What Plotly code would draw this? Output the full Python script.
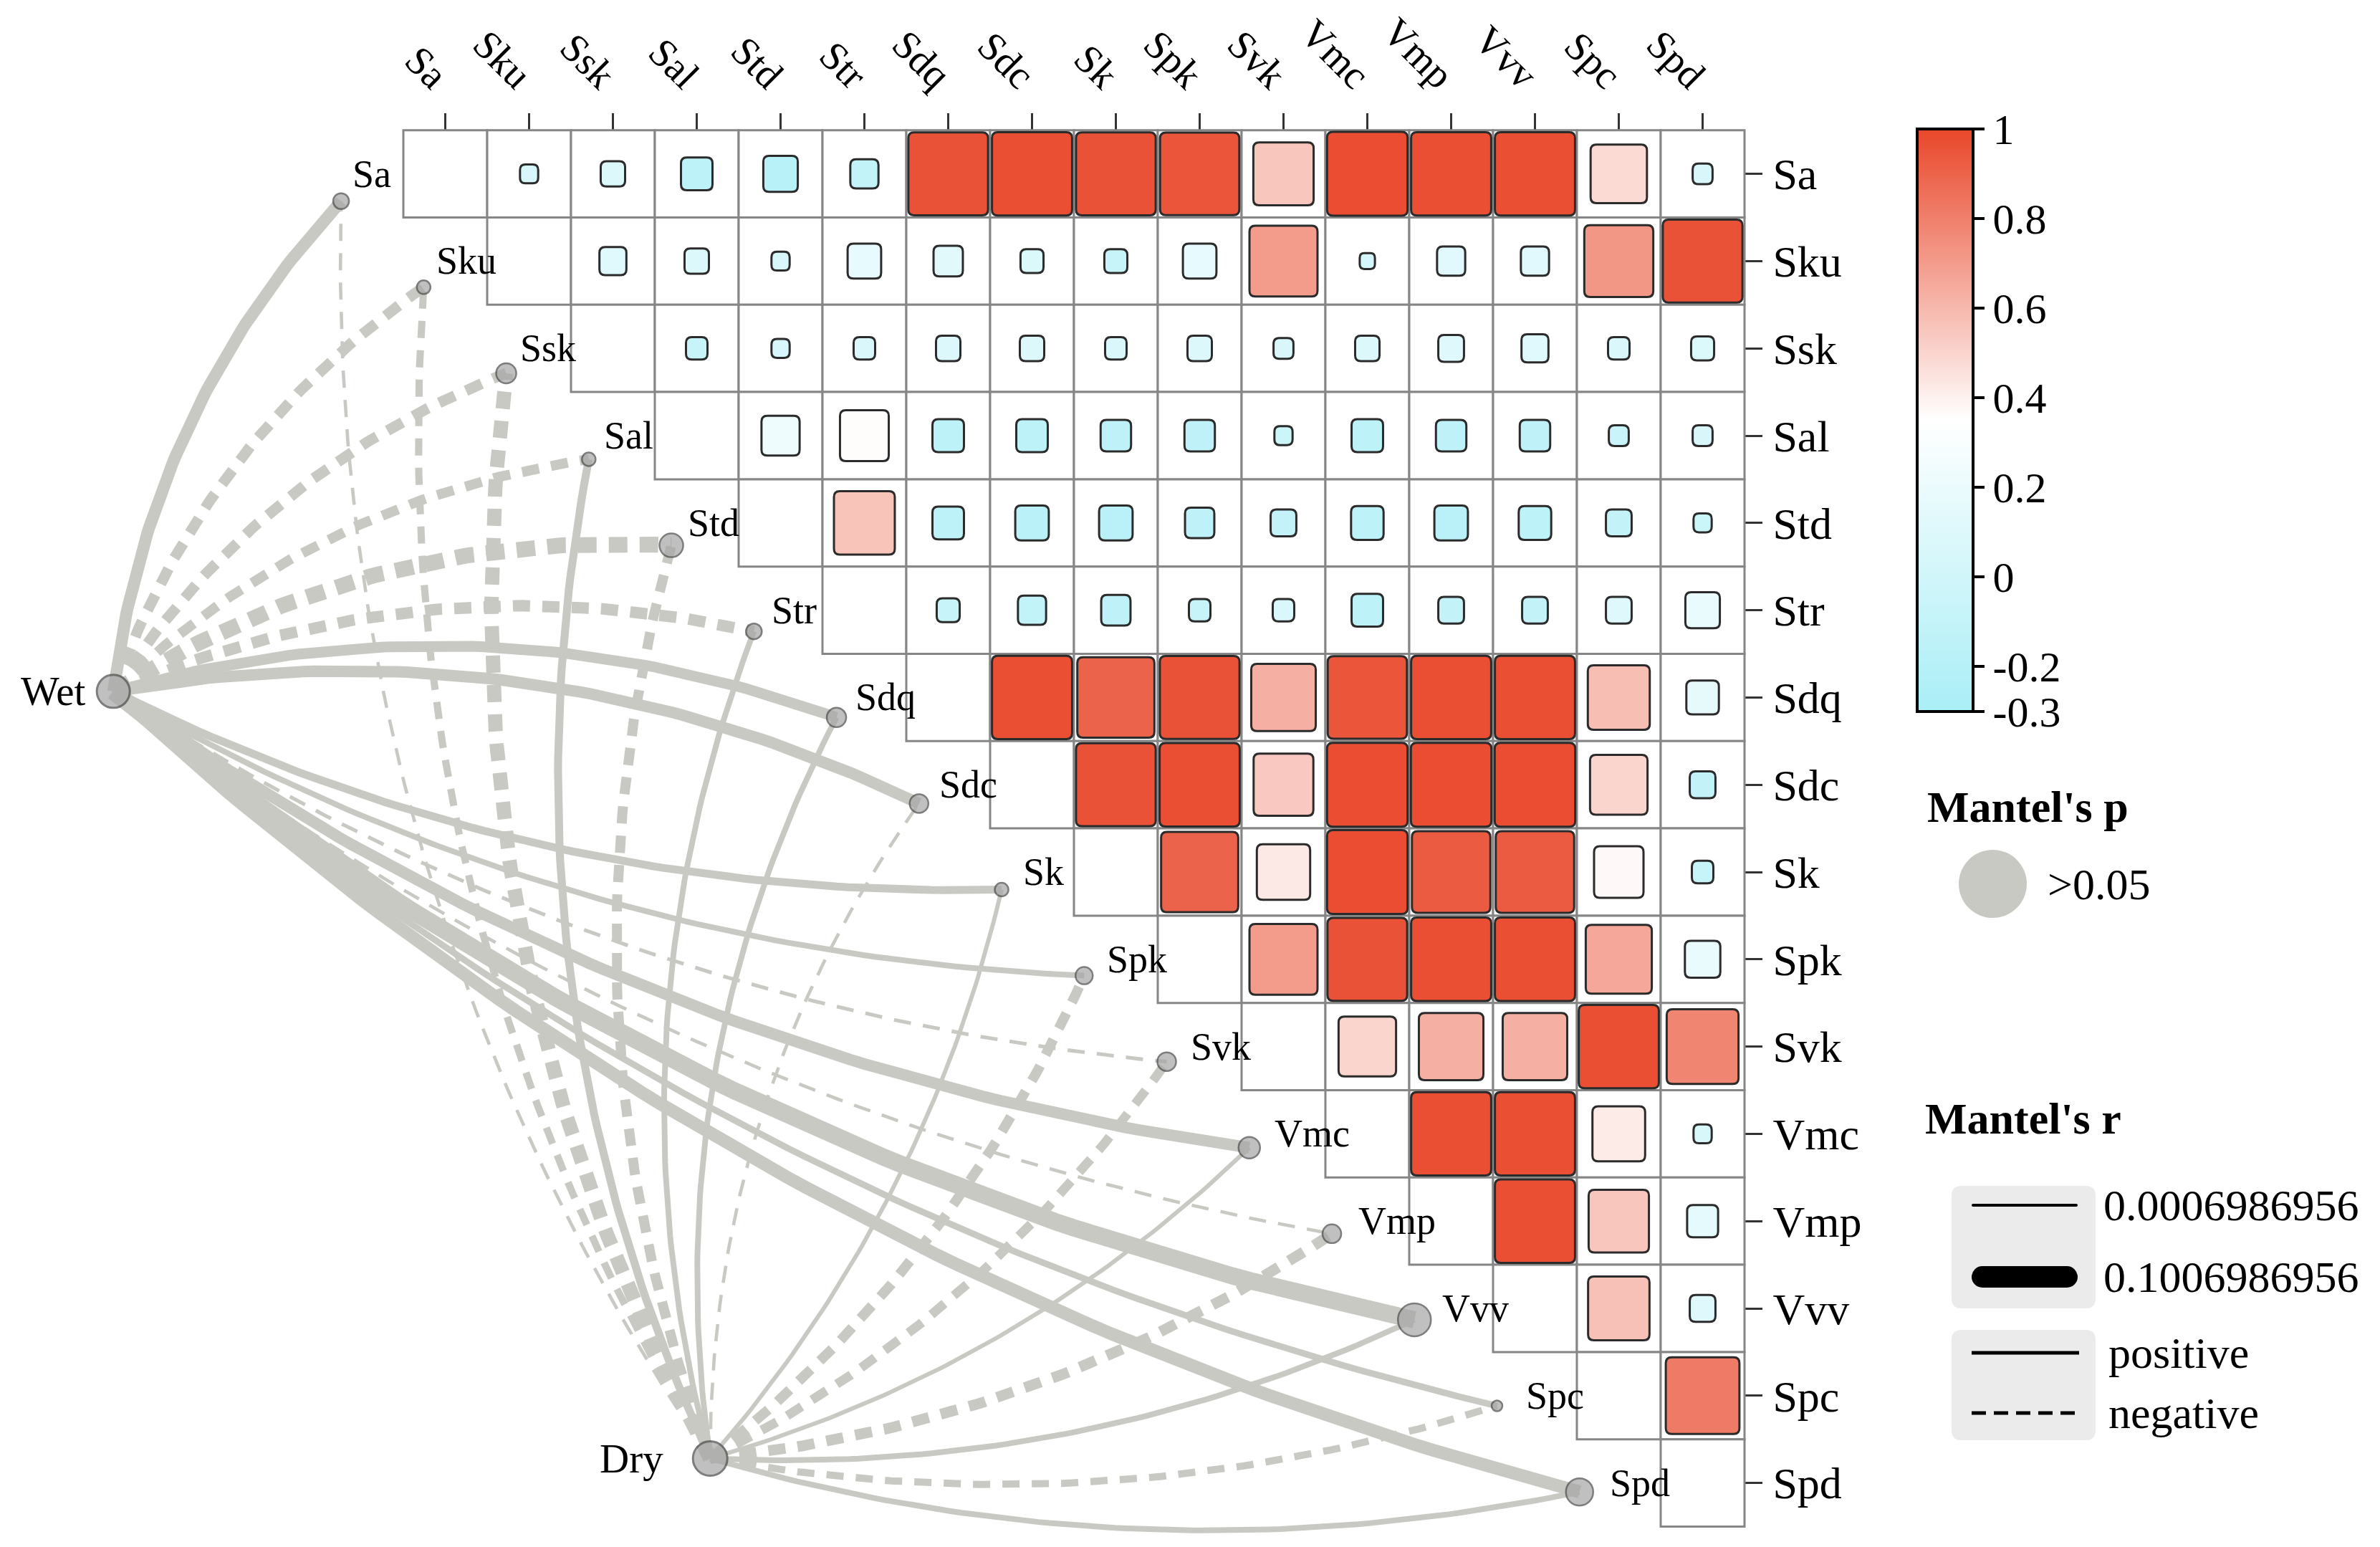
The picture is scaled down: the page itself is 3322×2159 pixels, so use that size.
import numpy as np
import plotly.graph_objects as go

# ---------------------------------------------------------------- data
variables = ["Sa", "Sku", "Ssk", "Sal", "Std", "Str", "Sdq", "Sdc", "Sk",
             "Spk", "Svk", "Vmc", "Vmp", "Vvv", "Spc", "Spd"]

# upper-triangle Pearson r, row i holds the values for columns i+1 .. 15
corr_sa = [0.05, 0.09, -0.15, -0.18, -0.12, 0.96, 0.97, 0.96, 0.95, 0.55, 0.98, 0.97, 0.97, 0.48, 0.06]
corr_sku = [0.11, 0.09, 0.05, 0.17, 0.13, 0.08, -0.08, 0.17, 0.70, 0.035, 0.12, 0.12, 0.72, 0.96]
corr_ssk = [-0.07, 0.05, 0.07, 0.09, 0.09, 0.07, 0.09, 0.06, 0.09, 0.10, 0.11, 0.07, 0.08]
corr_sal = [0.22, 0.36, -0.15, -0.15, -0.14, -0.14, -0.05, -0.15, -0.14, -0.14, -0.06, 0.06]
corr_std = [0.56, -0.15, -0.17, -0.17, -0.13, -0.10, -0.16, -0.17, -0.16, -0.10, -0.05]
corr_str = [-0.08, -0.12, -0.13, -0.07, 0.07, -0.15, -0.10, -0.10, 0.10, 0.18]
corr_sdq = [0.97, 0.90, 0.96, 0.63, 0.95, 0.97, 0.97, 0.58, 0.16]
corr_sdc = [0.96, 0.97, 0.54, 0.98, 0.98, 0.98, 0.50, -0.10]
corr_sk = [0.90, 0.43, 0.98, 0.93, 0.93, 0.37, -0.07]
corr_spk = [0.70, 0.96, 0.97, 0.97, 0.66, 0.19]
corr_svk = [0.50, 0.63, 0.63, 0.97, 0.78]
corr_vmc = [0.97, 0.97, 0.42, 0.05]
corr_vmp = [0.97, 0.55, 0.145]
corr_vvv = [0.57, 0.10]
corr_spc = [0.82]
corr_spd = []
corr_upper = [corr_sa, corr_sku, corr_ssk, corr_sal, corr_std, corr_str, corr_sdq, corr_sdc,
              corr_sk, corr_spk, corr_svk, corr_vmc, corr_vmp, corr_vvv, corr_spc, corr_spd]

env_names = ["Wet", "Dry"]
# Mantel's r (sign: + positive / - negative); all Mantel's p > 0.05
mantel_r_wet = [0.050, -0.043, -0.043, -0.039, -0.070, -0.047, 0.043, 0.047,
                0.028, 0.016, -0.005, 0.047, -0.003, 0.078, 0.020, 0.054]
mantel_r_dry = [-0.003, -0.024, -0.062, 0.028, -0.039, 0.016, 0.016, -0.003,
                0.008, -0.039, -0.035, 0.008, -0.043, 0.016, -0.024, 0.016]
mantel_p_label = ">0.05"
size_breaks = [0.0006986956, 0.1006986956]
sign_labels = ["positive", "negative"]

colorbar_ticks = [1, 0.8, 0.6, 0.4, 0.2, 0, -0.2, -0.3]
colorbar_ticktext = ["1", "0.8", "0.6", "0.4", "0.2", "0", "-0.2", "-0.3"]

# ---------------------------------------------------------------- layout constants
W, H = 3322, 2159
SHIFT_X, SHIFT_Y = -8, -8      # compensate page body margin
CW, RH = 117.0, 121.8          # px per column / row
X0, Y0 = 621.5 + SHIFT_X, 242.6 + SHIFT_Y
GRID_TOP = Y0 - RH / 2
GRID_RIGHT = X0 + 15.5 * CW
FONT = "Liberation Serif"
LINE_COL = "#C9C9C3"
NODE_FILL = "#A6A6A6"
NODE_EDGE = "#474747"
CMIN, CMAX = -0.3, 1.0
CSCALE = [[0.0, "#A9EEF6"], [0.5, "#FFFFFF"], [1.0, "#E9472A"]]

node_x = [-1.243 + 0.985 * i for i in range(16)]
node_y = [0.313 + 0.986 * i for i in range(16)]
node_size = [22, 19, 28, 19, 33, 22, 27, 26, 19, 24, 26, 30, 26, 46, 15, 38]
env_xy = [(-3.96, 5.93), (3.16, 14.72)]
env_size = [46, 48]
env_label_shift = [-36, -63]


def hex2rgb(h):
    h = h.lstrip("#")
    return [int(h[k:k + 2], 16) for k in (0, 2, 4)]


def fill_color(r):
    t = (r - CMIN) / (CMAX - CMIN)
    t = min(max(t, 0), 1)
    for (a, ca), (b, cb) in zip(CSCALE[:-1], CSCALE[1:]):
        if a <= t <= b:
            f = (t - a) / (b - a)
            A, B = hex2rgb(ca), hex2rgb(cb)
            c = [round(A[k] + (B[k] - A[k]) * f) for k in range(3)]
            return "rgb(%d,%d,%d)" % tuple(c)
    return CSCALE[-1][1]


def to_px(x, y):
    return X0 + CW * x, Y0 + RH * y


def to_units(px, py):
    return (px - X0) / CW, (py - Y0) / RH


def width_of(r):
    return 4 + 26 * (abs(r) - size_breaks[0]) / (size_breaks[1] - size_breaks[0])


def rounded_path(cx, cy, hw, hh, rx, ry):
    x0, x1, y0, y1 = cx - hw, cx + hw, cy - hh, cy + hh
    return (f"M{x0+rx},{y0} L{x1-rx},{y0} Q{x1},{y0} {x1},{y0+ry} "
            f"L{x1},{y1-ry} Q{x1},{y1} {x1-rx},{y1} L{x0+rx},{y1} "
            f"Q{x0},{y1} {x0},{y1-ry} L{x0},{y0+ry} Q{x0},{y0} {x0+rx},{y0} Z")


fig = go.Figure()
shapes = []
annotations = []

# ---------------------------------------------------------------- Mantel links
t = np.linspace(0, 1, 80)[:, None]
for e, rvals in enumerate([mantel_r_wet, mantel_r_dry]):
    p0 = np.array(to_px(*env_xy[e]))
    for i, r in enumerate(rvals):
        p2 = np.array(to_px(node_x[i], node_y[i]))
        d = p2 - p0
        L = np.hypot(*d)
        n = np.array([d[1], -d[0]]) / L
        sgn = 1 if i <= 7 else -1
        k = 0.08 if sgn > 0 else 0.062
        c = (p0 + p2) / 2 + sgn * 2 * k * L * n
        pts = (1 - t) ** 2 * p0 + 2 * t * (1 - t) * c + t ** 2 * p2
        xs, ys = to_units(pts[:, 0], pts[:, 1])
        w = width_of(r)
        dash = "solid" if r > 0 else "%dpx,%dpx" % (max(1.2 * w, 24), max(0.75 * w, 17))
        fig.add_trace(go.Scatter(x=xs, y=ys, mode="lines",
                                 line=dict(color=LINE_COL, width=w, dash=dash),
                                 hoverinfo="skip", showlegend=False))

# nodes
fig.add_trace(go.Scatter(x=node_x, y=node_y, mode="markers",
                         marker=dict(size=node_size, color=NODE_FILL,
                                     line=dict(color=NODE_EDGE, width=2.5)),
                         hoverinfo="skip", showlegend=False))
fig.add_trace(go.Scatter(x=[p[0] for p in env_xy], y=[p[1] for p in env_xy], mode="markers",
                         marker=dict(size=env_size, color=NODE_FILL,
                                     line=dict(color=NODE_EDGE, width=3)),
                         hoverinfo="skip", showlegend=False))

for i, v in enumerate(variables):
    annotations.append(dict(x=i - 1.12, y=i, xref="x", yref="y", text=v, showarrow=False,
                            xanchor="left", yanchor="middle",
                            font=dict(family=FONT, size=54, color="black")))
for e, v in enumerate(env_names):
    annotations.append(dict(x=env_xy[e][0], y=env_xy[e][1], xref="x", yref="y", text=v,
                            showarrow=False, xanchor="right", yanchor="middle",
                            xshift=env_label_shift[e],
                            font=dict(family=FONT, size=57, color="black")))

# ---------------------------------------------------------------- correlation grid
for i in range(16):
    for j in range(i, 16):
        shapes.append(dict(type="rect", xref="x", yref="y",
                           x0=j - 0.5, x1=j + 0.5, y0=i - 0.5, y1=i + 0.5,
                           line=dict(color="#868686", width=3), fillcolor="white",
                           layer="above"))

sq_x, sq_y, sq_r = [], [], []
rx, ry = 8 / CW, 8 / RH
for i, row in enumerate(corr_upper):
    for m, r in enumerate(row):
        j = i + 1 + m
        s = 0.97 * np.sqrt(abs(r))
        hw = hh = s / 2
        rrx, rry = min(rx, hw * 0.6), min(ry, hh * 0.6)
        shapes.append(dict(type="path", xref="x", yref="y",
                           path=rounded_path(j, i, hw, hh, rrx, rry),
                           fillcolor=fill_color(r), line=dict(color="#2B2B2B", width=3),
                           layer="above"))
        sq_x.append(j)
        sq_y.append(i)
        sq_r.append(r)


# ---------------------------------------------------------------- legends (paper px helpers)
def px_paper(x, y):
    return (x + SHIFT_X) / W, 1 - (y + SHIFT_Y) / H


# colour bar carrier (hidden under the squares)
cb_x, _ = px_paper(2676, 0)
_, cb_y = px_paper(0, 586.5)
fig.add_trace(go.Scatter(
    x=sq_x, y=sq_y, mode="markers", hoverinfo="skip", showlegend=False,
    marker=dict(size=2, color=sq_r, cmin=CMIN, cmax=CMAX, colorscale=CSCALE, showscale=True,
                colorbar=dict(x=cb_x, xanchor="left", xpad=0, ypad=0,
                              y=cb_y, yanchor="middle",
                              len=813, lenmode="pixels", thickness=78, thicknessmode="pixels",
                              outlinewidth=4, outlinecolor="black",
                              tickmode="array", tickvals=colorbar_ticks, ticktext=colorbar_ticktext,
                              ticks="outside", ticklen=14, tickwidth=4, tickcolor="black",
                              tickfont=dict(family=FONT, size=60, color="black")))))


def box_path(x0, y0, x1, y1, rad=14):
    ax, ay = rad / W, rad / H
    X0p, Y1p = px_paper(x0, y0)
    X1p, Y0p = px_paper(x1, y1)
    return (f"M{X0p+ax},{Y0p} L{X1p-ax},{Y0p} Q{X1p},{Y0p} {X1p},{Y0p+ay} "
            f"L{X1p},{Y1p-ay} Q{X1p},{Y1p} {X1p-ax},{Y1p} L{X0p+ax},{Y1p} "
            f"Q{X0p},{Y1p} {X0p},{Y1p-ay} L{X0p},{Y0p+ay} Q{X0p},{Y0p} {X0p+ax},{Y0p} Z")


def txt(x, y, s, size=62, anchor="left"):
    px, py = px_paper(x, y)
    annotations.append(dict(x=px, y=py, xref="paper", yref="paper", text=s, showarrow=False,
                            xanchor=anchor, yanchor="middle",
                            font=dict(family=FONT, size=size, color="black")))


txt(2688, 1126, "<b>Mantel's p</b>")
cx0, cy0 = px_paper(2734, 1186)
cx1, cy1 = px_paper(2829, 1281)
shapes.append(dict(type="circle", xref="paper", yref="paper", x0=cx0, y0=cy1, x1=cx1, y1=cy0,
                   fillcolor=LINE_COL, line=dict(width=0)))
txt(2856, 1234, mantel_p_label)

txt(2685, 1561, "<b>Mantel's r</b>")
shapes.append(dict(type="path", xref="paper", yref="paper", path=box_path(2724, 1655, 2925, 1826),
                   fillcolor="#EBEBEB", line=dict(width=0)))
shapes.append(dict(type="path", xref="paper", yref="paper", path=box_path(2724, 1856, 2925, 2010),
                   fillcolor="#EBEBEB", line=dict(width=0)))
for yy, val in zip([1682, 1782], size_breaks):
    w = width_of(val)
    a = px_paper(2752 + w / 2, yy)
    b = px_paper(2900 - w / 2, yy)
    shapes.append(dict(type="line", xref="paper", yref="paper", x0=a[0], y0=a[1], x1=b[0], y1=b[1],
                       line=dict(color="black", width=w)))
    for ex in (2752 + w / 2, 2900 - w / 2):
        c0 = px_paper(ex - w / 2, yy - w / 2)
        c1 = px_paper(ex + w / 2, yy + w / 2)
        shapes.append(dict(type="circle", xref="paper", yref="paper", x0=c0[0], y0=c1[1],
                           x1=c1[0], y1=c0[1], fillcolor="black", line=dict(width=0)))
    txt(2934, yy, "%.10f" % val)
for yy, lab, dsh in zip([1888, 1972], sign_labels, ["solid", "20px,11px"]):
    a = px_paper(2752, yy)
    b = px_paper(2902, yy)
    shapes.append(dict(type="line", xref="paper", yref="paper", x0=a[0], y0=a[1], x1=b[0], y1=b[1],
                       line=dict(color="black", width=5, dash=dsh)))
    txt(2941, yy, lab)

# ---------------------------------------------------------------- axes
axis_font = dict(family=FONT, size=62, color="black")
top_font = dict(family=FONT, size=56, color="black")
fig.update_layout(
    width=W, height=H, autosize=False,
    margin=dict(l=0, r=0, t=0, b=0, pad=0, autoexpand=False),
    paper_bgcolor="white", plot_bgcolor="rgba(0,0,0,0)",
    showlegend=False,
    xaxis=dict(range=[-X0 / CW, (W - X0) / CW], domain=[0, 1], anchor="free",
               position=1 - GRID_TOP / H, side="top", automargin=False,
               tickmode="array", tickvals=list(range(16)), ticktext=variables,
               tickangle=45, ticks="outside", ticklen=24, tickwidth=3, tickcolor="#333333",
               ticklabelstandoff=0,
               tickfont=top_font, showgrid=False, zeroline=False, showline=False),
    yaxis=dict(range=[(H - Y0) / RH, -Y0 / RH], domain=[0, 1], anchor="free",
               position=GRID_RIGHT / W, side="right", automargin=False,
               tickmode="array", tickvals=list(range(16)), ticktext=variables,
               ticks="outside", ticklen=24, tickwidth=3, tickcolor="#333333",
               ticklabelstandoff=2,
               tickfont=axis_font, showgrid=False, zeroline=False, showline=False),
    shapes=shapes,
    annotations=annotations,
)

fig.write_html("out.html")
